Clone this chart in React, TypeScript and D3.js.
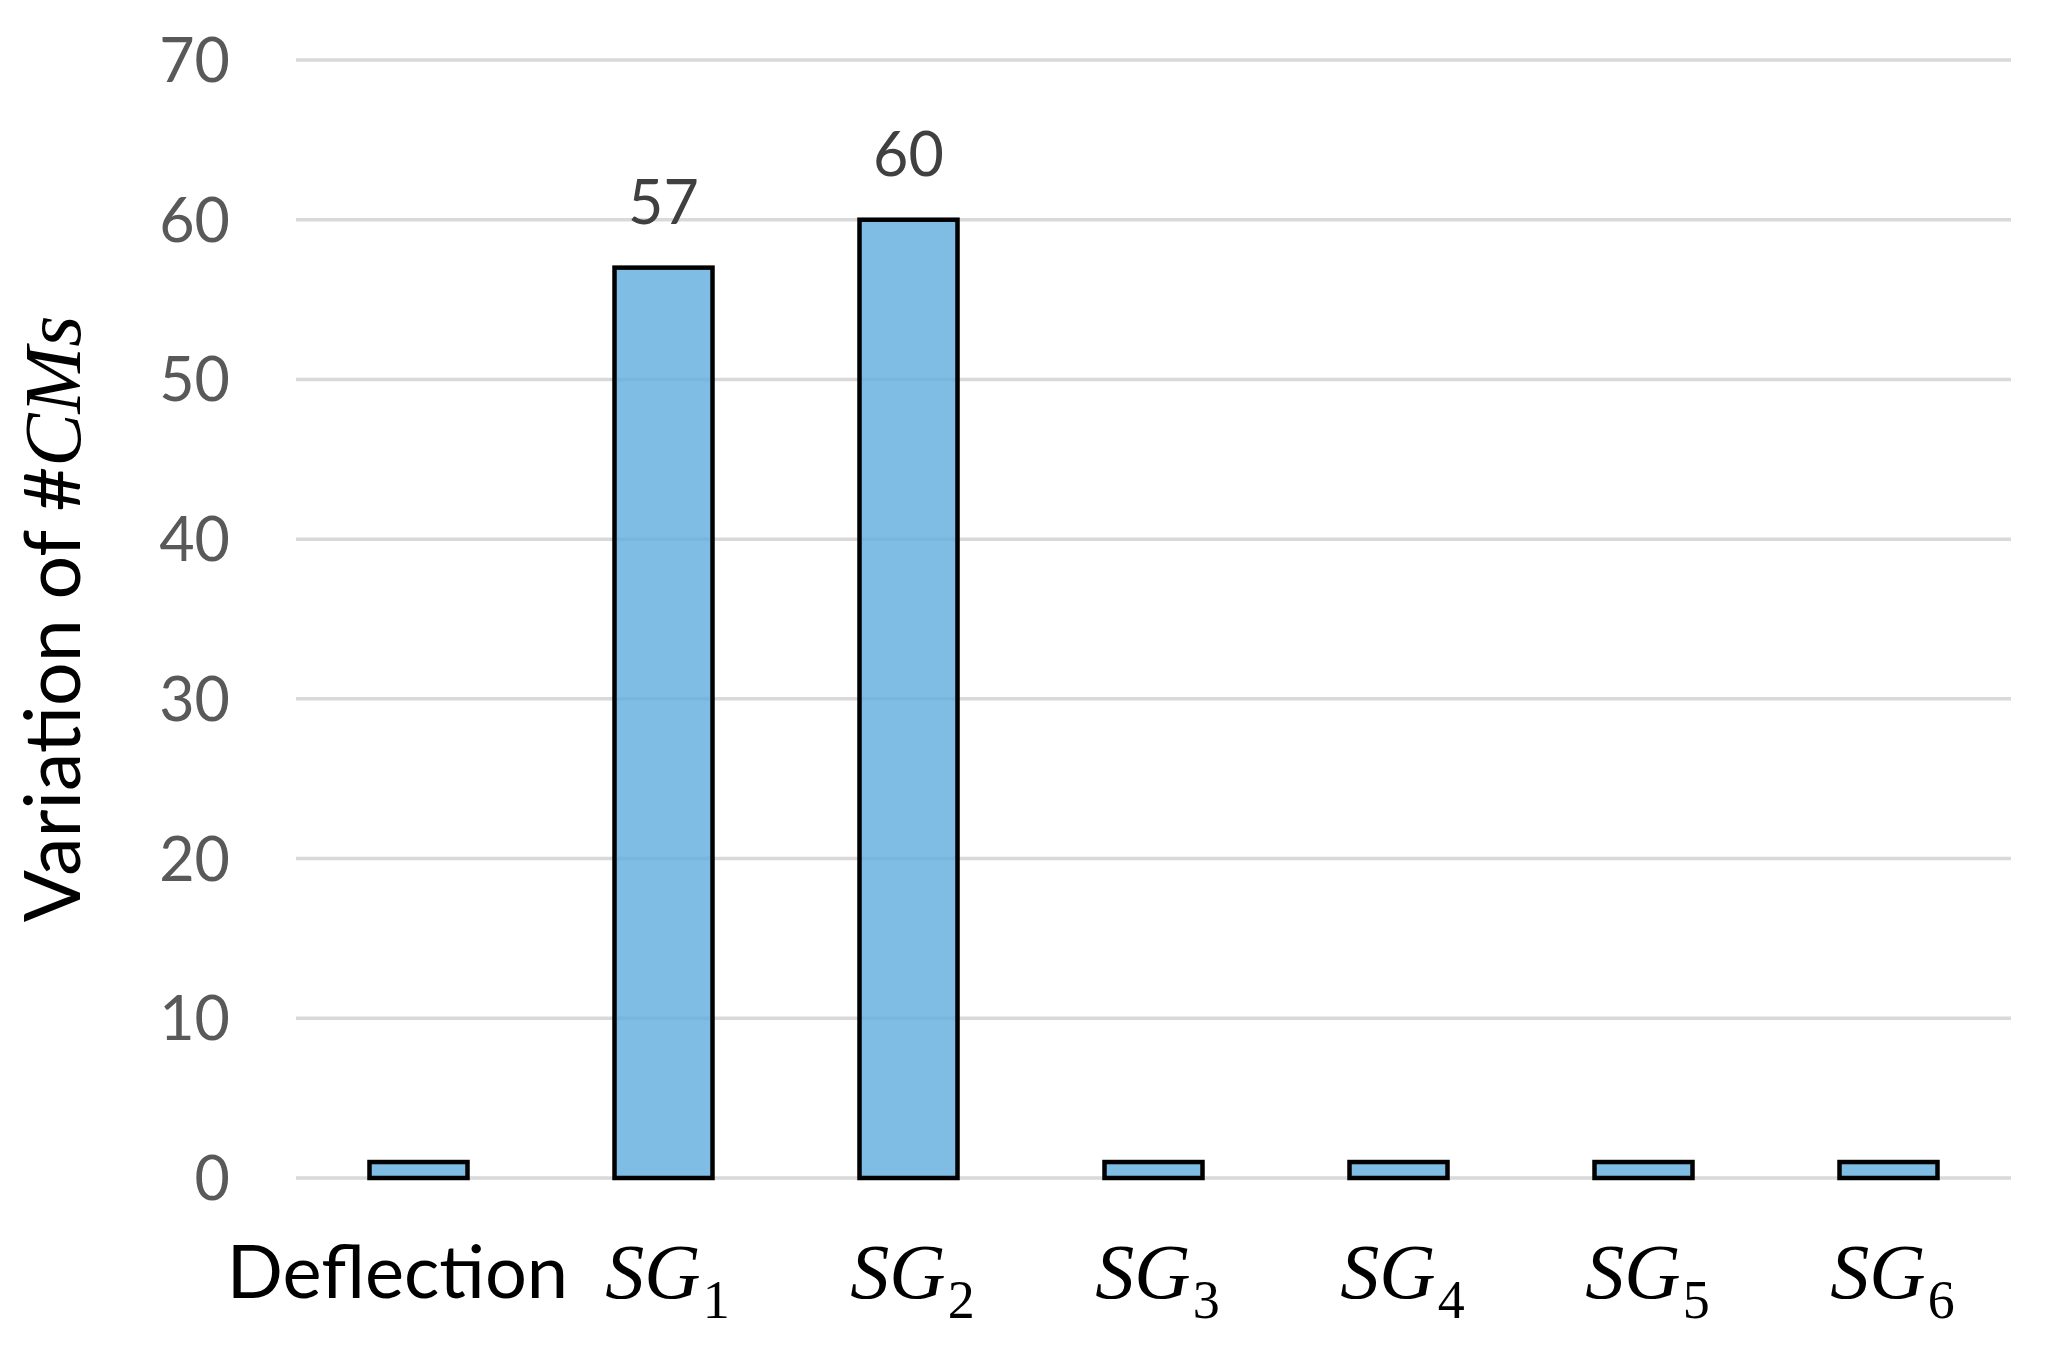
import React from "react";
import * as d3 from "d3";

const categories = ["Deflection", "SG1", "SG2", "SG3", "SG4", "SG5", "SG6"];
const values = [1, 57, 60, 1, 1, 1, 1];
const labelledValues = [null, 57, 60, null, null, null, null];
const yTicks = [0, 10, 20, 30, 40, 50, 60, 70];

const W = 2066;
const H = 1364;
const M = { left: 296, right: 2011, top: 60, bottom: 1178 };

export default function App() {
  const x = d3
    .scaleBand<string>()
    .domain(categories)
    .range([M.left, M.right])
    .paddingInner(0.6)
    .paddingOuter(0.3);
  const y = d3.scaleLinear().domain([0, 70]).range([M.bottom, M.top]);
  const bw = x.bandwidth();

  const sans = "Lato, 'Open Sans', sans-serif";
  const serif = "'Liberation Serif', 'DejaVu Serif', serif";

  return (
    <svg
      width={W}
      height={H}
      style={{ position: "absolute", left: 0, top: 0, display: "block", background: "#fff" }}
    >
      <rect x={0} y={0} width={W} height={H} fill="#fff" />
      {/* gridlines */}
      {yTicks.map((t) => (
        <line
          key={"g" + t}
          x1={M.left}
          x2={M.right}
          y1={y(t)}
          y2={y(t)}
          stroke="#d9d9d9"
          strokeWidth={3.5}
        />
      ))}
      {/* y tick labels */}
      {yTicks.map((t) => (
        <text
          key={"t" + t}
          x={230}
          y={y(t)}
          dy="0.36em"
          textAnchor="end"
          fontFamily={sans}
          fontSize={61}
          fill="#595959"
        >
          {t}
        </text>
      ))}
      {/* bars */}
      {categories.map((c, i) => (
        <rect
          key={"b" + c}
          x={x(c)!}
          y={y(values[i])}
          width={bw}
          height={y(0) - y(values[i])}
          fill="#5FADDD"
          fillOpacity={0.8}
          stroke="#000"
          strokeWidth={4.5}
        />
      ))}
      {/* data labels */}
      {categories.map((c, i) =>
        labelledValues[i] == null ? null : (
          <text
            key={"l" + c}
            x={x(c)! + bw / 2}
            y={y(values[i]) - 44}
            textAnchor="middle"
            fontFamily={sans}
            fontSize={61}
            fill="#404040"
          >
            {labelledValues[i]}
          </text>
        )
      )}
      {/* x labels */}
      {categories.map((c, i) => {
        const cx = x(c)! + bw / 2;
        if (i === 0) {
          return (
            <text
              key={"x" + c}
              x={cx - 21}
              y={1298}
              textAnchor="middle"
              fontFamily={sans}
              fontSize={74}
              fill="#000"
            >
              {c}
            </text>
          );
        }
        return (
          <text
            key={"x" + c}
            x={cx + 4}
            y={1298}
            textAnchor="middle"
            fontFamily={serif}
            fontStyle="italic"
            fontSize={78}
            fill="#000"
          >
            {c.slice(0, 2)}
            <tspan fontStyle="normal" fontSize={54} dy={20} dx={2}>
              {c.slice(2)}
            </tspan>
          </text>
        );
      })}
      {/* y axis title */}
      <text
        transform={`translate(80, ${(M.top + M.bottom) / 2 + 0}) rotate(-90)`}
        textAnchor="middle"
        fontFamily={sans}
        fontSize={77}
        fill="#000"
      >
        Variation of #
        <tspan fontFamily={serif} fontStyle="italic" fontSize={80}>
          CMs
        </tspan>
      </text>
    </svg>
  );
}
